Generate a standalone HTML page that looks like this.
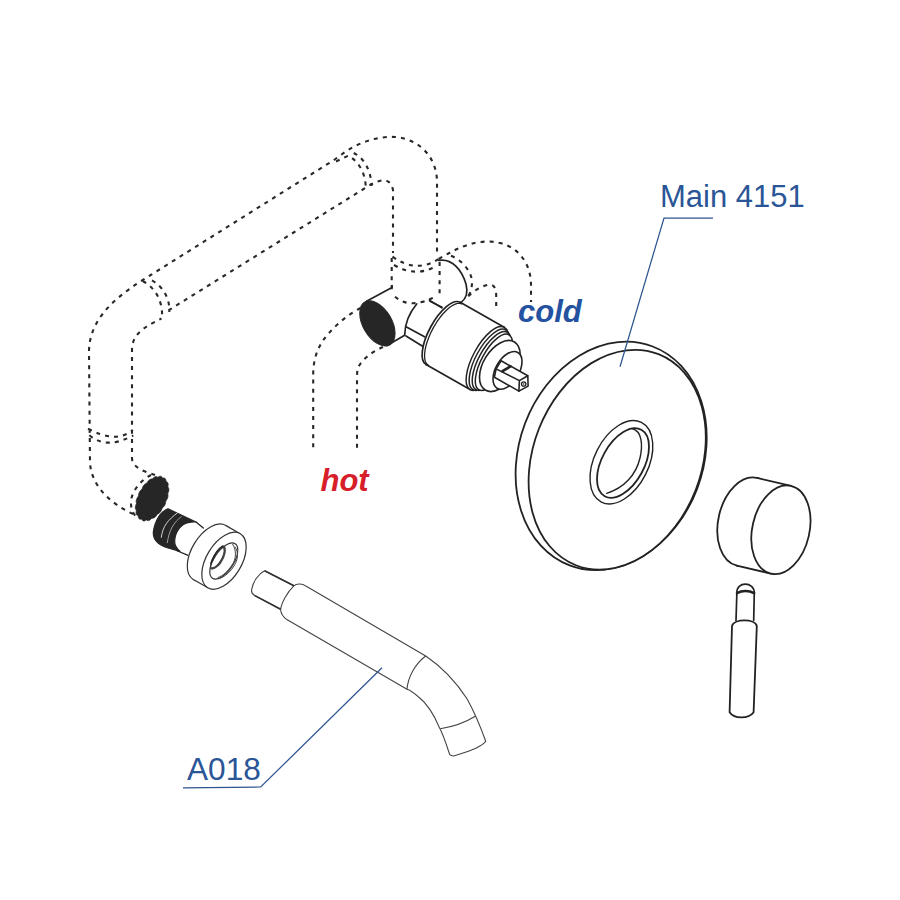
<!DOCTYPE html>
<html><head><meta charset="utf-8"><style>
html,body{margin:0;padding:0;background:#fff;}
#w{position:relative;width:900px;height:900px;overflow:hidden;background:#fff;}
svg{position:absolute;left:0;top:0;}
.t{position:absolute;font-family:"Liberation Sans",sans-serif;line-height:1;white-space:nowrap;}
.b{font-weight:bold;font-style:italic;}
</style></head><body><div id="w">
<svg width="900" height="900" viewBox="0 0 900 900">
<path d="M133,514 C120,508 92,492 90,463 L89,352 C89,324 108,302 142,280.5 L334,160 L345,152 C360,142 378,136 395,137 C420,139 437,158 437,182 L437,253" fill="none" stroke="#282828" stroke-width="2.1" stroke-dasharray="4 5.1"/>
<path d="M155,475 C146,472 132,468 132,458 L132,350 C132,335 142,328 161.5,318.5 M168.4,310.4 L366,187.5 C378,180 390,175 393,190 L393,253" fill="none" stroke="#282828" stroke-width="2.1" stroke-dasharray="4 5.1"/>
<path d="M88,428.7 Q116,444 132.7,430" fill="none" stroke="#282828" stroke-width="2.1" stroke-dasharray="4 5.1"/>
<path d="M89.3,435.3 Q107,450 133.3,435.3" fill="none" stroke="#282828" stroke-width="2.1" stroke-dasharray="4 5.1"/>
<path d="M142.7,281 C155,288 163,300 162,318" fill="none" stroke="#282828" stroke-width="2.1" stroke-dasharray="4 5.1"/>
<path d="M152,280.3 C163,287 170,298 169.3,312" fill="none" stroke="#282828" stroke-width="2.1" stroke-dasharray="4 5.1"/>
<path d="M336,161.5 L348.3,155.7 C358,161 365,172 365.7,186" fill="none" stroke="#282828" stroke-width="2.1" stroke-dasharray="4 5.1"/>
<path d="M353.7,153 C364,158 371,170 371.5,186" fill="none" stroke="#282828" stroke-width="2.1" stroke-dasharray="4 5.1"/>
<path d="M392.5,256.7 Q416.2,273.6 438.3,259.2" fill="none" stroke="#282828" stroke-width="2.1" stroke-dasharray="4 5.1"/>
<path d="M394,265 Q414.7,277 433.3,267.5" fill="none" stroke="#282828" stroke-width="2.1" stroke-dasharray="4 5.1"/>
<path d="M391.7,258 L391.7,291.7" fill="none" stroke="#282828" stroke-width="2.1" stroke-dasharray="4 5.1"/>
<path d="M395,296.7 Q410.7,310.3 436.7,295.8" fill="none" stroke="#282828" stroke-width="2.1" stroke-dasharray="4 5.1"/>
<path d="M439.6,262 L439.6,294" fill="none" stroke="#282828" stroke-width="2.1" stroke-dasharray="4 5.1"/>
<path d="M438.7,259 C460,246 480,238 500,243 C520,248 531,265 531,285 L531,302" fill="none" stroke="#282828" stroke-width="2.1" stroke-dasharray="4 5.1"/>
<path d="M468.2,296.2 C475,290 483,285 490,284.6 C495,285 496,290 496.2,295 L496.2,310" fill="none" stroke="#282828" stroke-width="2.1" stroke-dasharray="4 5.1"/>
<path d="M451,255.8 C462,260 472,272 472,282 C472,289 470,294 468.2,296.2" fill="none" stroke="#282828" stroke-width="2.1" stroke-dasharray="4 5.1"/>
<path d="M360.5,308 C345,316 330,330 322,342 C316,352 313.2,362 313.2,375 L313.2,452" fill="none" stroke="#282828" stroke-width="2.1" stroke-dasharray="4 5.1"/>
<path d="M383,347 C372,352 362,359 358,368 C357,371 357,375 357,380 L357,452" fill="none" stroke="#282828" stroke-width="2.1" stroke-dasharray="4 5.1"/>
<path d="M151,475 C143,479 134,488 131.5,498 C130,506 132,512 135.5,516" fill="none" stroke="#282828" stroke-width="2.1" stroke-dasharray="4 5.1"/>
<path d="M366.5,301.2 L392,287.5 L392,285.5" fill="none" stroke="#222" stroke-width="1.7" stroke-linejoin="round" stroke-linecap="round"/>
<path d="M387,345.6 L404.7,335.3" fill="none" stroke="#222" stroke-width="1.7" stroke-linejoin="round" stroke-linecap="round"/>
<ellipse cx="377.40" cy="323.40" rx="24.80" ry="14.40" transform="rotate(59.50 377.40 323.40)" fill="#262626" stroke="#262626" stroke-width="1"/>
<path d="M430,301.3 L442,307.3" fill="none" stroke="#222" stroke-width="1.7" stroke-linejoin="round" stroke-linecap="round"/>
<path d="M416.7,304 C410,312 405,322 404.7,334.7" fill="none" stroke="#222" stroke-width="1.7" stroke-linejoin="round" stroke-linecap="round"/>
<path d="M406,326.7 L424.5,336.8" fill="none" stroke="#222" stroke-width="1.7" stroke-linejoin="round" stroke-linecap="round"/>
<path d="M406,336 L423,346.5" fill="none" stroke="#222" stroke-width="1.7" stroke-linejoin="round" stroke-linecap="round"/>
<path d="M438.7,260.4 C452,258 462,270 466,284 C468,292 467,298 461.2,302.4" fill="none" stroke="#222" stroke-width="1.7" stroke-linejoin="round" stroke-linecap="round"/>
<path d="M429.3,300.1 L441.8,307.9" fill="none" stroke="#222" stroke-width="1.7" stroke-linejoin="round" stroke-linecap="round"/>
<ellipse cx="443.10" cy="333.45" rx="35.50" ry="14.00" transform="rotate(-61.40 443.10 333.45)" fill="#fff" stroke="#222" stroke-width="1.7"/><path d="M460.18,302.33 L504.18,327.33 L470.02,389.57 L426.02,364.57Z" fill="#fff" stroke="none"/><path d="M460.18,302.33 L504.18,327.33 M426.02,364.57 L470.02,389.57" fill="none" stroke="#222" stroke-width="1.7" stroke-linejoin="round" stroke-linecap="round"/>
<path d="M461.89,304.05 L460.91,303.62 L459.83,303.38 L458.66,303.33 L457.41,303.47 L456.08,303.81 L454.69,304.34 L453.23,305.05 L451.73,305.95 L450.18,307.02 L448.61,308.26 L447.01,309.67 L445.40,311.23 L443.79,312.93 L442.18,314.77 L440.60,316.73 L439.04,318.80 L437.52,320.97 L436.05,323.23 L434.63,325.55 L433.27,327.93 L431.99,330.35 L430.79,332.80 L429.68,335.26 L428.67,337.71 L427.75,340.15 L426.94,342.55 L426.25,344.91 L425.66,347.20 L425.20,349.41 L424.87,351.53 L424.65,353.55 L424.57,355.45 L424.61,357.23 L424.77,358.86 L425.06,360.35 L425.48,361.67 L426.02,362.83 L426.67,363.82 L427.44,364.62 L428.31,365.25" fill="none" stroke="#222" stroke-width="1.3"/>
<ellipse cx="487.10" cy="358.45" rx="35.50" ry="14.00" transform="rotate(-61.40 487.10 358.45)" fill="#fff" stroke="#222" stroke-width="1.5"/>
<ellipse cx="489.36" cy="359.72" rx="34.10" ry="13.50" transform="rotate(-61.40 489.36 359.72)" fill="#fff" stroke="#222" stroke-width="1.5"/>
<ellipse cx="491.62" cy="361.00" rx="32.70" ry="13.00" transform="rotate(-61.40 491.62 361.00)" fill="#fff" stroke="#222" stroke-width="1.5"/>
<ellipse cx="493.89" cy="362.27" rx="31.30" ry="12.50" transform="rotate(-61.40 493.89 362.27)" fill="#fff" stroke="#222" stroke-width="1.5"/>
<ellipse cx="499.85" cy="366.00" rx="28.09" ry="16.59" transform="rotate(121.32 499.85 366.00)" fill="#fff" stroke="#222" stroke-width="1.6"/>
<ellipse cx="507.50" cy="370.35" rx="20.70" ry="11.71" transform="rotate(120.06 507.50 370.35)" fill="#fff" stroke="#222" stroke-width="1.6"/>
<path d="M501.1,360.8 L527.8,375.8 L528.1,386.1 L518.9,391.1 L494.4,377.2 L496.1,368.9 Z" fill="#fff" stroke="#222" stroke-width="1.6" stroke-linejoin="round" stroke-linecap="round"/>
<path d="M496.1,368.9 L519.4,380.6 L527.8,375.8 M519.4,380.6 L518.9,391.1" fill="none" stroke="#222" stroke-width="1.6" stroke-linejoin="round" stroke-linecap="round"/>
<path d="M502.5,371.2 L510.5,366.3" fill="none" stroke="#222" stroke-width="2.6" stroke-linejoin="round" stroke-linecap="round"/>
<circle cx="523.7" cy="384" r="2.2" fill="none" stroke="#222" stroke-width="1.3"/>
<circle cx="523.7" cy="384" r="0.8" fill="#222"/>
<ellipse cx="611.15" cy="455.90" rx="117.05" ry="92.04" transform="rotate(110.79 611.15 455.90)" fill="#fff" stroke="#222" stroke-width="1.8"/>
<ellipse cx="617.20" cy="459.70" rx="113.33" ry="84.17" transform="rotate(111.37 617.20 459.70)" fill="#fff" stroke="#222" stroke-width="1.8"/>
<ellipse cx="621.40" cy="462.25" rx="44.59" ry="27.07" transform="rotate(116.70 621.40 462.25)" fill="none" stroke="#222" stroke-width="1.4"/>
<ellipse cx="623.00" cy="463.05" rx="37.94" ry="21.08" transform="rotate(118.85 623.00 463.05)" fill="none" stroke="#222" stroke-width="1.8"/>
<path d="M632,428.5 C642,431 643,445 640,458 C636,475 624,488 606.7,493.3" fill="none" stroke="#222" stroke-width="1.4" stroke-linejoin="round" stroke-linecap="round"/>
<ellipse cx="746.90" cy="521.80" rx="44.97" ry="28.58" transform="rotate(102.85 746.90 521.80)" fill="#fff" stroke="#222" stroke-width="1.8"/><path d="M757.02,477.99 L791.02,485.99 L770.78,573.61 L736.78,565.61Z" fill="#fff" stroke="none"/><path d="M757.02,477.99 L791.02,485.99 M736.78,565.61 L770.78,573.61" fill="none" stroke="#222" stroke-width="1.8" stroke-linejoin="round" stroke-linecap="round"/><ellipse cx="780.90" cy="529.80" rx="44.97" ry="28.58" transform="rotate(102.85 780.90 529.80)" fill="#fff" stroke="#222" stroke-width="1.8"/>
<path d="M729.6,712.2 L732,626 C734,618.5 755,618.5 756.8,626 L753.6,712.2 C749,719 734,719 729.6,712.2Z" fill="#fff" stroke="#222" stroke-width="1.8" stroke-linejoin="round" stroke-linecap="round"/>
<path d="M736,620.5 L736.9,592 M753.7,620.5 L754.3,592" fill="none" stroke="#222" stroke-width="1.7" stroke-linejoin="round" stroke-linecap="round"/>
<path d="M736.9,593 C736,581.2 754.5,581.2 754.3,593" fill="#fff" stroke="#222" stroke-width="1.7" stroke-linejoin="round" stroke-linecap="round"/>
<path d="M737,593.2 C742,590.2 749,590.2 754,593.2" fill="none" stroke="#222" stroke-width="2.6" stroke-linejoin="round" stroke-linecap="round"/>
<path d="M162.49,478.20 L162.95,478.10 L163.39,478.04 L163.82,478.02 L164.22,478.05 L164.59,478.16 L164.92,478.34 L165.21,478.59 L165.45,478.91 L165.63,479.31 L165.78,479.76 L165.87,480.25 L165.93,480.79 L165.97,481.34 L166.23,481.60 L166.61,481.74 L166.96,481.92 L167.28,482.15 L167.56,482.43 L167.79,482.77 L167.96,483.17 L168.07,483.62 L168.13,484.13 L168.13,484.68 L168.08,485.27 L168.00,485.87 L167.88,486.49 L167.87,487.01 L168.14,487.34 L168.38,487.70 L168.58,488.10 L168.74,488.54 L168.84,489.01 L168.88,489.52 L168.87,490.07 L168.79,490.64 L168.65,491.24 L168.47,491.85 L168.24,492.47 L167.98,493.09 L167.70,493.70 L167.82,494.19 L167.92,494.70 L167.98,495.22 L168.00,495.77 L167.97,496.34 L167.88,496.92 L167.73,497.50 L167.53,498.09 L167.27,498.68 L166.97,499.26 L166.63,499.83 L166.26,500.38 L165.87,500.91 L165.71,501.48 L165.66,502.08 L165.57,502.69 L165.44,503.30 L165.27,503.90 L165.06,504.49 L164.79,505.07 L164.48,505.62 L164.13,506.14 L163.74,506.63 L163.32,507.09 L162.88,507.52 L162.43,507.92 L162.06,508.38 L161.86,509.01 L161.63,509.63 L161.37,510.24 L161.08,510.83 L160.76,511.38 L160.40,511.89 L160.01,512.35 L159.59,512.77 L159.16,513.13 L158.70,513.43 L158.24,513.69 L157.77,513.91 L157.31,514.10 L156.98,514.69 L156.63,515.26 L156.26,515.81 L155.88,516.32 L155.47,516.78 L155.05,517.18 L154.62,517.51 L154.18,517.78 L153.74,517.97 L153.29,518.10 L152.85,518.17 L152.42,518.19 L152.00,518.17 L151.58,518.48 L151.15,518.94 L150.71,519.37 L150.26,519.75 L149.82,520.07 L149.37,520.32 L148.94,520.50 L148.51,520.60 L148.10,520.61 L147.71,520.55 L147.34,520.43 L146.99,520.25 L146.65,520.02 L146.29,519.96 L145.82,520.26 L145.35,520.53 L144.89,520.74 L144.45,520.89 L144.02,520.97 L143.62,520.97 L143.24,520.89 L142.91,520.72 L142.60,520.48 L142.34,520.18 L142.10,519.82 L141.89,519.42 L141.71,519.00 L141.25,519.10 L140.81,519.16 L140.38,519.18 L139.98,519.15 L139.61,519.04 L139.28,518.86 L138.99,518.61 L138.75,518.29 L138.57,517.89 L138.42,517.44 L138.33,516.95 L138.27,516.41 L138.23,515.86 L137.97,515.60 L137.59,515.46 L137.24,515.28 L136.92,515.05 L136.64,514.77 L136.41,514.43 L136.24,514.03 L136.13,513.58 L136.07,513.07 L136.07,512.52 L136.12,511.93 L136.20,511.33 L136.32,510.71 L136.33,510.19 L136.06,509.86 L135.82,509.50 L135.62,509.10 L135.46,508.66 L135.36,508.19 L135.32,507.68 L135.33,507.13 L135.41,506.56 L135.55,505.96 L135.73,505.35 L135.96,504.73 L136.22,504.11 L136.50,503.50 L136.38,503.01 L136.28,502.50 L136.22,501.98 L136.20,501.43 L136.23,500.86 L136.32,500.28 L136.47,499.70 L136.67,499.11 L136.93,498.52 L137.23,497.94 L137.57,497.37 L137.94,496.82 L138.33,496.29 L138.49,495.72 L138.54,495.12 L138.63,494.51 L138.76,493.90 L138.93,493.30 L139.14,492.71 L139.41,492.13 L139.72,491.58 L140.07,491.06 L140.46,490.57 L140.88,490.11 L141.32,489.68 L141.77,489.28 L142.14,488.82 L142.34,488.19 L142.57,487.57 L142.83,486.96 L143.12,486.37 L143.44,485.82 L143.80,485.31 L144.19,484.85 L144.61,484.43 L145.04,484.07 L145.50,483.77 L145.96,483.51 L146.43,483.29 L146.89,483.10 L147.22,482.51 L147.57,481.94 L147.94,481.39 L148.32,480.88 L148.73,480.42 L149.15,480.02 L149.58,479.69 L150.02,479.42 L150.46,479.23 L150.91,479.10 L151.35,479.03 L151.78,479.01 L152.20,479.03 L152.62,478.72 L153.05,478.26 L153.49,477.83 L153.94,477.45 L154.38,477.13 L154.83,476.88 L155.26,476.70 L155.69,476.60 L156.10,476.59 L156.49,476.65 L156.86,476.77 L157.21,476.95 L157.55,477.18 L157.91,477.24 L158.38,476.94 L158.85,476.67 L159.31,476.46 L159.75,476.31 L160.18,476.23 L160.58,476.23 L160.96,476.31 L161.29,476.48 L161.60,476.72 L161.86,477.02 L162.10,477.38 L162.31,477.78Z" fill="#262626" stroke="#262626" stroke-width="0.8" stroke-linejoin="round"/>
<path d="M168,508.7 C161,511 155,520 153.3,532 C153,540 158,545 168,548 L180,551.3 C176,548 174.5,545 174.7,541 C175,532 181,524 188,522.7 C191,522 194,521.5 196,522 Z" fill="#262626" stroke="#262626" stroke-width="1.2" stroke-linejoin="round"/>
<path d="M177.3,513 C168,520 162.7,526 161.3,537.3" fill="none" stroke="#e6e6e6" stroke-width="0.9" stroke-linejoin="round" stroke-linecap="round"/>
<path d="M181.3,516.7 C174,522 169,530 167.3,542.7" fill="none" stroke="#bdbdbd" stroke-width="0.8" stroke-linejoin="round" stroke-linecap="round"/>
<path d="M196,522 L203.3,528" fill="none" stroke="#222" stroke-width="1.3" stroke-linejoin="round" stroke-linecap="round"/>
<path d="M176.5,550.5 L188,555.3" fill="none" stroke="#222" stroke-width="1.3" stroke-linejoin="round" stroke-linecap="round"/>
<ellipse cx="209.50" cy="552.45" rx="31.51" ry="17.59" transform="rotate(121.21 209.50 552.45)" fill="#fff" stroke="#333" stroke-width="1.2"/><path d="M225.62,525.38 L240.12,533.68 L207.88,587.82 L193.38,579.52Z" fill="#fff" stroke="none"/><path d="M225.62,525.38 L240.12,533.68 M193.38,579.52 L207.88,587.82" fill="none" stroke="#333" stroke-width="1.2"/><ellipse cx="224.00" cy="560.75" rx="31.51" ry="17.59" transform="rotate(121.21 224.00 560.75)" fill="#fff" stroke="#333" stroke-width="1.2"/>
<ellipse cx="223.80" cy="561.00" rx="20.60" ry="9.79" transform="rotate(123.53 223.80 561.00)" fill="none" stroke="#333" stroke-width="1.2"/>
<ellipse cx="217.75" cy="557.50" rx="12.93" ry="4.20" transform="rotate(118.90 217.75 557.50)" fill="none" stroke="#333" stroke-width="1.1"/>
<path d="M223,546.5 C226,549 225,556 220,563 C217,567 213,569 210.8,568" fill="none" stroke="#444" stroke-width="2.2" stroke-linejoin="round" stroke-linecap="round"/>
<path d="M211,563 C214,556 218,549 222.5,546.5" fill="none" stroke="#222" stroke-width="1.4" stroke-linejoin="round" stroke-linecap="round"/>
<path d="M232.5,544 C237,550 236,560 232,565 C228,571 223,576 218,577.5" fill="none" stroke="#444" stroke-width="1" stroke-linejoin="round" stroke-linecap="round"/>
<path d="M235,547 C239,552 238,560 234,566 C231,571 226,576 220,578.5" fill="none" stroke="#444" stroke-width="1" stroke-linejoin="round" stroke-linecap="round"/>
<path d="M264.6,570.7 C258,574 253,582 251.7,589.3 C251,592 252,594 254.8,595.6 L280.6,609.3 L293.9,585.8 Z" fill="#fff" stroke="#444" stroke-width="1.1" stroke-linejoin="round"/>
<path d="M293.9,585.8 C296,584 302,583 305.4,585.8 L425.7,656 C441.7,666.7 456,682 467,698.7 C475,713 481,728 485.7,741.3 C480,748 469.7,750.7 453.7,756 C451,756 450,755 449.7,754.7 C446,743 442,732 439,726.7 C434,715 426,703 419,697.3 C414,693 410,690 407,689.3 L286.8,619.6 C283,617 281,614 280.6,609.8 C281,604 287,592 293.9,585.8Z" fill="#fff" stroke="#444" stroke-width="1.1" stroke-linejoin="round"/>
<path d="M425.7,656 C415,664 408,677 407,689.3" fill="none" stroke="#444" stroke-width="1.1"/>
<path d="M440.3,728.7 C452,727 466,722 475.7,716" fill="none" stroke="#444" stroke-width="1.1"/>
<path d="M264.6,570.7 L293.9,585.8" fill="none" stroke="#333" stroke-width="1.6"/>
<path d="M254.8,595.6 L280.6,609.3" fill="none" stroke="#333" stroke-width="1.6"/>
<path d="M713,218 L664,218 L620,366.7" fill="none" stroke="#2d5590" stroke-width="1.25"/>
<path d="M183,787.8 L260.7,787 L382,667.7" fill="none" stroke="#2d5590" stroke-width="1.25"/>
</svg>

<div class="t" style="left:660px;top:181px;font-size:31px;color:#2a5596">Main 4151</div>
<div class="t" style="left:187px;top:753.5px;font-size:31.6px;color:#2a5596">A018</div>
<div class="t b" style="left:518px;top:296px;font-size:31px;color:#2452a0">cold</div>
<div class="t b" style="left:320.5px;top:464.5px;font-size:31px;color:#d71f2b">hot</div>

</div></body></html>
